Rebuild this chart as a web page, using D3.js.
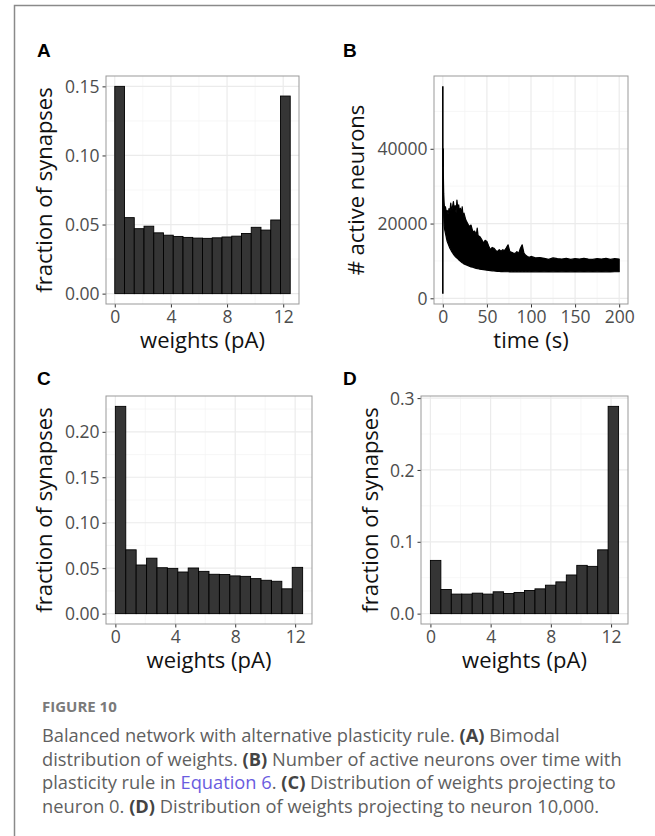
<!DOCTYPE html>
<html lang="en">
<head>
<meta charset="UTF-8">
<script src="https://d3js.org/d3.v7.min.js" charset="utf-8"></script>
<title>Figure 10</title>
<style>
  body { margin: 0; background: #fff; }
  svg text { font-family: "Open Sans", "Noto Sans", sans-serif; }
</style>
</head>
<body>
<div id="fig"></div>
<script>
// ---- data ----
const binCount = 18, binMax = 12.5;
const weightTicks = [0, 4, 8, 12];

// A: whole network
const fracA = [0.150, 0.055, 0.047, 0.0488, 0.044, 0.0423, 0.0414, 0.0407, 0.0402,
               0.0400, 0.0404, 0.0410, 0.0416, 0.0435, 0.0480, 0.0460, 0.0533, 0.143];
// C: projecting to neuron 0
const fracC = [0.228, 0.0702, 0.0535, 0.061, 0.0505, 0.0498, 0.0458, 0.0502, 0.0465,
               0.0433, 0.0430, 0.0415, 0.0410, 0.0385, 0.0367, 0.0356, 0.0273, 0.0509];
// D: projecting to neuron 10,000
const fracD = [0.0741, 0.0336, 0.0272, 0.0272, 0.0285, 0.0272, 0.0304, 0.0281, 0.0295,
               0.0322, 0.0345, 0.0396, 0.0442, 0.0538, 0.0672, 0.0658, 0.0888, 0.2885];

// B: number of active neurons, upper and lower edge of the oscillating trace
const spikeT = 0, spikeLow = 1250, spikeHigh = 56700;
const timeS = [0.3, 0.6, 1, 1.5, 2, 3, 4, 5, 6, 7, 8, 9, 10, 11, 12, 13, 14, 15, 16, 17, 18, 19,
               20, 21, 22, 23, 24, 26, 28, 30, 32, 34, 36, 38, 39, 40, 42, 44, 46, 48, 50, 52, 54,
               56, 58, 60, 62, 64, 66, 68, 70, 72, 74, 76, 78, 80, 82, 84, 86, 88, 90, 92, 94, 96,
               98, 100, 105, 110, 115, 120, 125, 130, 135, 140, 145, 150, 155, 160, 165, 170, 175,
               180, 185, 190, 195, 200];
const activeHigh = [40000, 33000, 28000, 25500, 24000, 24500, 23000, 23500, 22500, 24000, 23000,
               25500, 23500, 24500, 25900, 23800, 24800, 22800, 26300, 24000, 25000, 23000, 24100,
               22500, 24500, 22000, 22800, 21000, 20100, 19200, 19600, 17800, 18000, 17000, 18800,
               16800, 16500, 15800, 14800, 15500, 15200, 14000, 13000, 13600, 13400, 12800, 12500,
               13000, 12600, 13000, 12800, 13500, 14300, 12500, 12300, 12100, 12000, 12500, 12000,
               13400, 14300, 12100, 11500, 11200, 11000, 11200, 10800, 10900, 10700, 10400, 10800,
               10600, 10500, 10700, 10400, 10600, 10500, 10700, 10500, 10400, 10600, 10500, 10700,
               10400, 10600, 10500];
const activeLow = [36000, 27000, 22000, 19500, 18500, 17400, 16200, 15200, 14600, 14000, 13400,
               13000, 12500, 12200, 11800, 11500, 11200, 11000, 10800, 10600, 10300, 10100, 9900,
               9700, 9500, 9400, 9200, 9000, 8800, 8600, 8400, 8300, 8100, 8000, 7950, 7900, 7800,
               7700, 7650, 7600, 7500, 7450, 7400, 7350, 7300, 7250, 7200, 7200, 7150, 7150, 7100,
               7100, 7100, 7050, 7100, 7050, 7100, 7050, 7100, 7050, 7100, 7050, 7100, 7050, 7100,
               7050, 7100, 7050, 7100, 7050, 7100, 7050, 7100, 7050, 7100, 7050, 7100, 7050, 7100,
               7050, 7100, 7050, 7100, 7050, 7100, 7100];
const timeTicks = [0, 50, 100, 150, 200];
const activeTicks = [0, 20000, 40000];

// ---- layout ----
const W = 655, H = 836;
const svg = d3.select("#fig").append("svg")
    .attr("width", W).attr("height", H);

svg.append("path")
    .attr("d", "M14.5," + H + "V5.5H" + W)
    .attr("fill", "none").attr("stroke", "#8a8a8a").attr("stroke-width", 1.5);

const panels = {
    A: { x0: 106, x1: 299, y0: 76, y1: 304, lx: 37, ly: 57, tx: 52 },
    B: { x0: 434, x1: 628, y0: 76, y1: 304, lx: 343, ly: 57, tx: 364 },
    C: { x0: 106, x1: 312, y0: 396, y1: 624, lx: 37, ly: 385, tx: 52 },
    D: { x0: 421, x1: 628, y0: 396, y1: 624, lx: 343, ly: 385, tx: 378 }
};

function expand(lo, hi) {
    const d = (hi - lo) * 0.05;
    return [lo - d, hi + d];
}

function frame(p, name, x, y, xMajor, xMinor, yMajor, yMinor, yFmt, xTitle, yTitle) {
    const g = svg.append("g");
    g.append("rect").attr("x", p.x0).attr("y", p.y0)
        .attr("width", p.x1 - p.x0).attr("height", p.y1 - p.y0).attr("fill", "#fff");
    // grid
    g.selectAll(".vmin").data(xMinor).enter().append("line")
        .attr("x1", d => x(d)).attr("x2", d => x(d)).attr("y1", p.y0).attr("y2", p.y1)
        .attr("stroke", "#f3f3f3").attr("stroke-width", 0.7);
    g.selectAll(".hmin").data(yMinor).enter().append("line")
        .attr("y1", d => y(d)).attr("y2", d => y(d)).attr("x1", p.x0).attr("x2", p.x1)
        .attr("stroke", "#f3f3f3").attr("stroke-width", 0.7);
    g.selectAll(".vmaj").data(xMajor).enter().append("line")
        .attr("x1", d => x(d)).attr("x2", d => x(d)).attr("y1", p.y0).attr("y2", p.y1)
        .attr("stroke", "#ebebeb").attr("stroke-width", 1.2);
    g.selectAll(".hmaj").data(yMajor).enter().append("line")
        .attr("y1", d => y(d)).attr("y2", d => y(d)).attr("x1", p.x0).attr("x2", p.x1)
        .attr("stroke", "#ebebeb").attr("stroke-width", 1.2);

    // axes
    const xa = g.append("g").attr("transform", "translate(0," + p.y1 + ")")
        .call(d3.axisBottom(x).tickValues(xMajor).tickSize(3.5).tickPadding(3));
    const ya = g.append("g").attr("transform", "translate(" + p.x0 + ",0)")
        .call(d3.axisLeft(y).tickValues(yMajor).tickSize(3.5).tickPadding(3).tickFormat(yFmt));
    [xa, ya].forEach(a => {
        a.select(".domain").remove();
        a.selectAll("line").attr("stroke", "#333").attr("stroke-width", 1);
        a.selectAll("text").attr("fill", "#4d4d4d").style("font-size", "17.5px")
            .style("font-family", "'Open Sans', sans-serif");
    });
    ya.selectAll("text").attr("dy", "0.35em");

    g.append("text").attr("x", (p.x0 + p.x1) / 2).attr("y", p.y1 + 44)
        .attr("text-anchor", "middle").style("font-size", "22px").attr("fill", "#111")
        .text(xTitle);
    g.append("text")
        .attr("transform", "translate(" + p.tx + "," + ((p.y0 + p.y1) / 2) + ") rotate(-90)")
        .attr("text-anchor", "middle").style("font-size", "22px").attr("fill", "#111")
        .text(yTitle);
    g.append("text").attr("x", p.lx).attr("y", p.ly)
        .style("font-family", "'Liberation Sans', Arial, sans-serif")
        .style("font-weight", "bold").style("font-size", "19px").text(name);
    return g;
}

function histPanel(name, values, yMajor, yMinor, yFmt) {
    const p = panels[name];
    const x = d3.scaleLinear().domain(expand(0, binMax)).range([p.x0, p.x1]);
    const y = d3.scaleLinear().domain(expand(0, d3.max(values))).range([p.y1, p.y0]);
    const g = frame(p, name, x, y, weightTicks, [2, 6, 10], yMajor, yMinor, yFmt,
        "weights (pA)", "fraction of synapses");
    const bw = binMax / binCount;
    g.append("g").selectAll("rect").data(values).enter().append("rect")
        .attr("x", (d, i) => x(i * bw))
        .attr("width", (d, i) => x((i + 1) * bw) - x(i * bw))
        .attr("y", d => y(d))
        .attr("height", d => y(0) - y(d))
        .attr("fill", "#353535").attr("stroke", "#000").attr("stroke-width", 0.9);
    g.append("rect").attr("x", p.x0).attr("y", p.y0)
        .attr("width", p.x1 - p.x0).attr("height", p.y1 - p.y0)
        .attr("fill", "none").attr("stroke", "#999").attr("stroke-width", 1);
}

histPanel("A", fracA, [0, 0.05, 0.10, 0.15], [0.025, 0.075, 0.125], d3.format(".2f"));
histPanel("C", fracC, [0, 0.05, 0.10, 0.15, 0.20], [0.025, 0.075, 0.125, 0.175, 0.225], d3.format(".2f"));
histPanel("D", fracD, [0, 0.1, 0.2, 0.3], [0.05, 0.15, 0.25], d3.format(".1f"));

// B: time series
(function () {
    const p = panels.B;
    const x = d3.scaleLinear().domain(expand(0, 200)).range([p.x0, p.x1]);
    const y = d3.scaleLinear().domain(expand(spikeLow, spikeHigh)).range([p.y1, p.y0]);
    const g = frame(p, "B", x, y, timeTicks, [25, 75, 125, 175], activeTicks,
        [10000, 30000, 50000], d3.format("d"), "time (s)", "# active neurons");
    const band = timeS.map((t, i) => ({ t: t, hi: activeHigh[i], lo: activeLow[i] }));
    g.append("path").datum(band)
        .attr("d", d3.area().x(d => x(d.t)).y0(d => y(d.lo)).y1(d => y(d.hi)))
        .attr("fill", "#000").attr("stroke", "#000").attr("stroke-width", 1.2)
        .attr("stroke-linejoin", "round");
    g.append("line")
        .attr("x1", x(spikeT)).attr("x2", x(spikeT))
        .attr("y1", y(spikeLow)).attr("y2", y(spikeHigh))
        .attr("stroke", "#000").attr("stroke-width", 1.6);
    g.append("path").datum([{ t: spikeT, v: spikeHigh * 0.62 }, { t: timeS[0], v: activeHigh[0] }])
        .attr("d", d3.line().x(d => x(d.t)).y(d => y(d.v)))
        .attr("stroke", "#000").attr("stroke-width", 1.4);
    g.append("rect").attr("x", p.x0).attr("y", p.y0)
        .attr("width", p.x1 - p.x0).attr("height", p.y1 - p.y0)
        .attr("fill", "none").attr("stroke", "#999").attr("stroke-width", 1);
})();

// ---- caption ----
const cap = svg.append("g");
cap.append("text").attr("x", 42).attr("y", 712)
    .attr("fill", "#7a7a7a").style("font-size", "15px").style("font-weight", "bold")
    .text("FIGURE 10");
const captionLines = [
    [["Balanced network with alternative plasticity rule. ", 0], ["(A)", 1], [" Bimodal", 0]],
    [["distribution of weights. ", 0], ["(B)", 1], [" Number of active neurons over time with", 0]],
    [["plasticity rule in ", 0], ["Equation 6", 2], [". ", 0], ["(C)", 1], [" Distribution of weights projecting to", 0]],
    [["neuron 0. ", 0], ["(D)", 1], [" Distribution of weights projecting to neuron 10,000.", 0]]
];
captionLines.forEach((line, i) => {
    const t = cap.append("text").attr("x", 42).attr("y", 742 + i * 23.5)
        .style("font-size", "18.3px").attr("fill", "#5f5f5f").attr("xml:space", "preserve");
    line.forEach(seg => {
        const s = t.append("tspan").text(seg[0]);
        if (seg[1] === 1) s.style("font-weight", "bold").attr("fill", "#444");
        if (seg[1] === 2) s.attr("fill", "#6a5ce0");
    });
});
</script>
</body>
</html>
